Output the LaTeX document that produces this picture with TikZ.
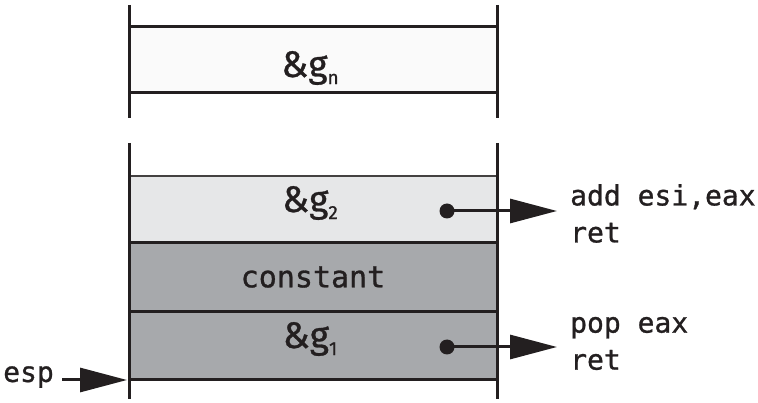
\documentclass[tikz,border=0pt]{standalone}
\usepackage{fontspec}
\setmainfont{Fira Sans}[FakeBold=0.8]
\newfontfamily\codefont{DejaVu Sans Mono}[FakeBold=1.0]
\usetikzlibrary{arrows.meta}
\definecolor{ink}{HTML}{231F20}
\definecolor{paleslot}{HTML}{FAFAFA}
\definecolor{lightslot}{HTML}{E6E7E8}
\definecolor{darkslot}{HTML}{A7A9AC}
\newcommand{\slotsub}[1]{\raisebox{-7pt}{\fontsize{19}{19}\selectfont #1}}
\tikzset{
  slot/.style={minimum width=368pt, inner sep=0pt, outer sep=0pt},
  rule/.style={draw=ink, line width=3pt},
  wall/.style={draw=ink, line width=3pt},
  pointer/.style={draw=ink, line width=3pt, -{Triangle[length=47pt,width=24pt]}},
  dotmark/.style={circle, fill=ink, inner sep=0pt, minimum size=15pt},
  lbl/.style={font=\fontsize{37}{40}\selectfont, inner sep=0pt, text=ink},
  code/.style={font=\codefont\fontsize{28}{37}\selectfont, align=left, inner sep=0pt, text=ink},
}
\begin{document}
\begin{tikzpicture}[x=1pt,y=-1pt]
\useasboundingbox (0,0) rectangle (758,403);
% stack slots
\node[slot, fill=paleslot, minimum height=66pt] (gn) at (313,60) {};
\node[slot, fill=lightslot, minimum height=67pt] (g2) at (313,209.5) {};
\node[slot, fill=darkslot, minimum height=69pt] (const) at (313,277.5) {};
\node[slot, fill=darkslot, minimum height=68pt] (g1) at (313,346) {};
% slot labels
\node[lbl] (gnl) at (310,68) {\&g\slotsub{n}};
\node[lbl] (g2l) at (310,203) {\&g\slotsub{2}};
\node[font=\codefont\fontsize{30}{32}\selectfont, text=ink] (constl) at (313,277) {constant};
\node[lbl] (g1l) at (310,339) {\&g\slotsub{1}};
% horizontal rules
\draw[rule] (gn.north west) -- (gn.north east);
\draw[rule] (gn.south west) -- (gn.south east);
\draw[draw=ink!85, line width=2.2pt] (g2.north west) -- (g2.north east);
\draw[rule] (g2.south west) -- (g2.south east);
\draw[rule] (const.south west) -- (const.south east);
\draw[rule] (g1.south west) -- (g1.south east);
% side walls
\coordinate (tl) at (129,5);
\coordinate (tlb) at (129,118);
\coordinate (tr) at (497,5);
\coordinate (trb) at (497,118);
\coordinate (bl) at (129,143);
\coordinate (blb) at (129,399);
\coordinate (br) at (497,143);
\coordinate (brb) at (497,399);
\draw[wall] (tl) -- (tlb);
\draw[wall] (tr) -- (trb);
\draw[wall] (bl) -- (blb);
\draw[wall] (br) -- (brb);
% gadget pointers
\node[dotmark] (d2) at (447,211) {};
\node[dotmark] (d1) at (447,347) {};
\node[code, anchor=west] (c2) at (570,213.5) {add esi,eax\\ret};
\node[code, anchor=west] (c1) at (570,343.5) {pop eax\\ret};
\coordinate (c2tip) at (557,211);
\coordinate (c1tip) at (557,347);
\draw[pointer] (d2.center) -- (c2tip);
\draw[pointer] (d1.center) -- (c1tip);
% stack pointer
\node[code, anchor=east] (esp) at (54,377) {esp};
\coordinate (esptip) at (127,380);
\draw[pointer] (esp.east |- esptip) ++(8,0) -- (esptip);
\end{tikzpicture}
\end{document}
